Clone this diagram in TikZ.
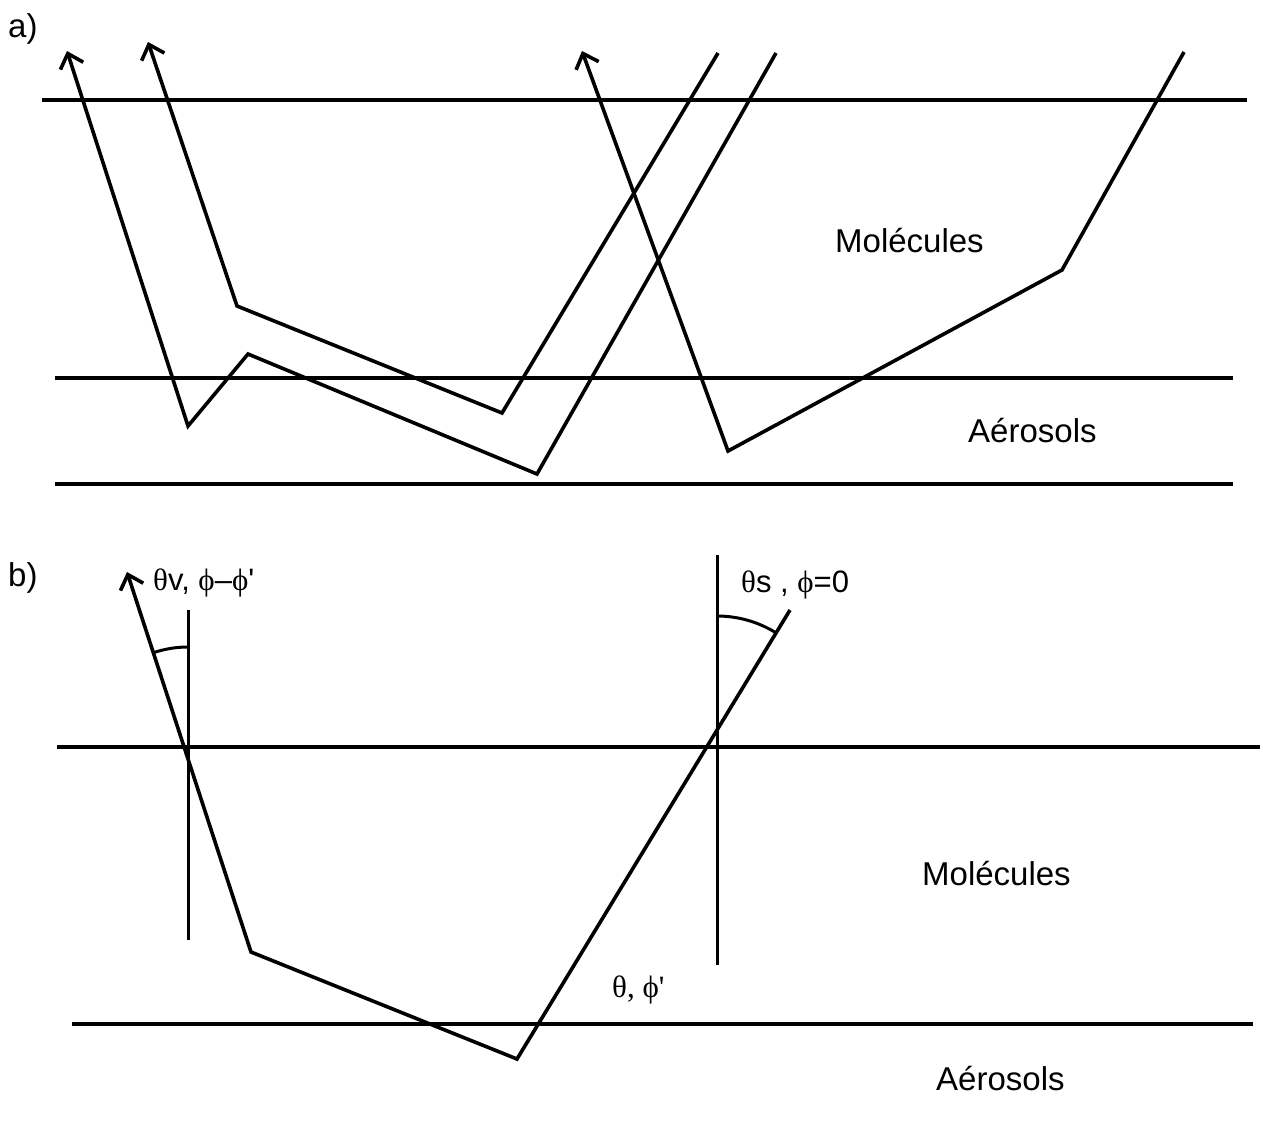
\documentclass[tikz,border=0pt]{standalone}
\usepackage{fontspec}
\setmainfont{Liberation Sans}
\newfontfamily\lsans{Liberation Sans}
\newfontfamily\gserif{Liberation Serif}
\usetikzlibrary{arrows.meta}
\begin{document}
\begin{tikzpicture}[x=1pt,y=-1pt,
  layer/.style={line width=3.2pt},
  ray/.style={line width=3.6pt, line join=miter},
  rayarrow/.style={ray, {Straight Barb[length=13pt,width=24pt]}-},
  vert/.style={line width=3pt},
  anglearc/.style={line width=3pt},
  lbl/.style={inner sep=0pt, anchor=base west, font=\lsans\fontsize{33}{40}\selectfont},
  glbl/.style={inner sep=0pt, anchor=base west, font=\lsans\fontsize{31}{38}\selectfont}]
\useasboundingbox (0,0) rectangle (1263,1128);

% ---------- panel a ----------
\node[lbl] (la) at (8,37) {a)};
\coordinate (aTopL) at (42,100);  \coordinate (aTopR) at (1247,100);
\coordinate (aMidL) at (55,378);  \coordinate (aMidR) at (1233,378);
\coordinate (aBotL) at (55,484);  \coordinate (aBotR) at (1233,484);
\draw[layer] (aTopL) -- (aTopR);
\draw[layer] (aMidL) -- (aMidR);
\draw[layer] (aBotL) -- (aBotR);

\coordinate (r1a) at (67,51);  \coordinate (r1b) at (188,426);
\coordinate (r1c) at (248,354); \coordinate (r1d) at (537,474);
\coordinate (r1e) at (776,53);
\draw[rayarrow] (r1a) -- (r1b) -- (r1c) -- (r1d) -- (r1e);

\coordinate (r2a) at (148,42);  \coordinate (r2b) at (237,306);
\coordinate (r2c) at (502,413); \coordinate (r2d) at (718,53);
\draw[rayarrow] (r2a) -- (r2b) -- (r2c) -- (r2d);

\coordinate (r3a) at (582,51);  \coordinate (r3b) at (728,451);
\coordinate (r3c) at (1062,270); \coordinate (r3d) at (1184,52);
\draw[rayarrow] (r3a) -- (r3b) -- (r3c) -- (r3d);

\node[lbl] (molA) at (835,252) {Molécules};
\node[lbl] (aerA) at (968,442) {Aérosols};

% ---------- panel b ----------
\node[lbl] (lb) at (8,586) {b)};
\coordinate (bTopL) at (57,747);  \coordinate (bTopR) at (1260,747);
\coordinate (bBotL) at (72,1024); \coordinate (bBotR) at (1253,1024);
\draw[layer] (bTopL) -- (bTopR);
\draw[layer] (bBotL) -- (bBotR);

\coordinate (v1t) at (188,610); \coordinate (v1b) at (188,940);
\coordinate (v2t) at (717,555); \coordinate (v2b) at (717,965);
\draw[vert] (v1t) -- (v1b);
\draw[vert] (v2t) -- (v2b);

\coordinate (s1) at (127,572); \coordinate (s2) at (251,952);
\coordinate (s3) at (517,1059); \coordinate (s4) at (790,610);
\draw[rayarrow] (s1) -- (s2) -- (s3) -- (s4);

\coordinate (c1) at (188,755);
\coordinate (c2) at (717,728);
\draw[anglearc] (c1) ++(0,-108) arc[start angle=-90, end angle=-108, radius=108];
\draw[anglearc] (c2) ++(0,-112) arc[start angle=-90, end angle=-58.8, radius=112];

\node[glbl] (thv) at (153,590) {{\gserif θ}v, {\gserif ϕ}–{\gserif ϕ}'};
\node[glbl] (ths) at (741,592) {{\gserif θ}s , {\gserif ϕ}=0};
\node[glbl] (thp) at (612,997) {{\gserif θ, ϕ'}};

\node[lbl] (molB) at (922,885) {Molécules};
\node[lbl] (aerB) at (936,1090) {Aérosols};
\end{tikzpicture}
\end{document}
